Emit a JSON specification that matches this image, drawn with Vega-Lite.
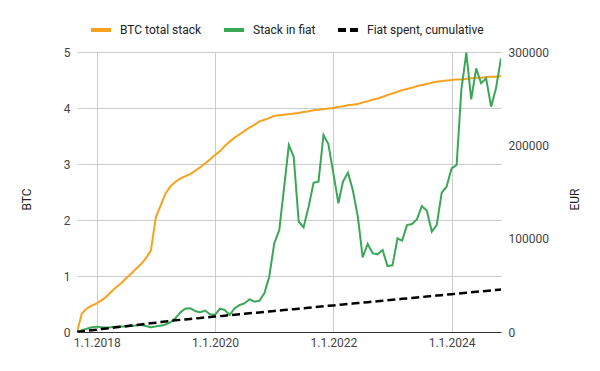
{
  "$schema": "https://vega.github.io/schema/vega-lite/v6.json",
  "width": 424,
  "height": 280,
  "autosize": {"type": "none"},
  "padding": {"left": 77, "top": 52, "right": 99, "bottom": 39},
  "background": "white",
  "config": {
    "view": {"stroke": null},
    "font": "Roboto",
    "axis": {
      "labelFont": "Roboto",
      "labelFontSize": 12,
      "labelColor": "#444444",
      "titleFont": "Roboto",
      "titleFontSize": 12,
      "titleFontWeight": "normal",
      "titleColor": "#222222",
      "gridColor": "#cccccc",
      "gridWidth": 1,
      "ticks": false
    },
    "legend": {
      "labelFont": "Roboto",
      "labelFontSize": 12,
      "labelColor": "#222222"
    }
  },
  "data": {
    "values": [
      {"date": "2017-09-01", "btc": 0, "fiat": 0, "spent": 0},
      {"date": "2017-10-01", "btc": 0.33, "fiat": 2000, "spent": 625},
      {"date": "2017-11-01", "btc": 0.42, "fiat": 3500, "spent": 1250},
      {"date": "2017-12-01", "btc": 0.47, "fiat": 5000, "spent": 1875},
      {"date": "2018-01-01", "btc": 0.51, "fiat": 5700, "spent": 2500},
      {"date": "2018-02-01", "btc": 0.57, "fiat": 5000, "spent": 3125},
      {"date": "2018-03-01", "btc": 0.63, "fiat": 4600, "spent": 3750},
      {"date": "2018-04-01", "btc": 0.72, "fiat": 5200, "spent": 4375},
      {"date": "2018-05-01", "btc": 0.80, "fiat": 5700, "spent": 5000},
      {"date": "2018-06-01", "btc": 0.87, "fiat": 5800, "spent": 5625},
      {"date": "2018-07-01", "btc": 0.96, "fiat": 6000, "spent": 6250},
      {"date": "2018-08-01", "btc": 1.04, "fiat": 6400, "spent": 6875},
      {"date": "2018-09-01", "btc": 1.13, "fiat": 7000, "spent": 7500},
      {"date": "2018-10-01", "btc": 1.21, "fiat": 7500, "spent": 8125},
      {"date": "2018-11-01", "btc": 1.32, "fiat": 6500, "spent": 8750},
      {"date": "2018-12-01", "btc": 1.45, "fiat": 5000, "spent": 9375},
      {"date": "2019-01-01", "btc": 2.05, "fiat": 6000, "spent": 10000},
      {"date": "2019-02-01", "btc": 2.27, "fiat": 6800, "spent": 10625},
      {"date": "2019-03-01", "btc": 2.47, "fiat": 8000, "spent": 11250},
      {"date": "2019-04-01", "btc": 2.60, "fiat": 10400, "spent": 11875},
      {"date": "2019-05-01", "btc": 2.68, "fiat": 14700, "spent": 12500},
      {"date": "2019-06-01", "btc": 2.74, "fiat": 21000, "spent": 13000},
      {"date": "2019-07-01", "btc": 2.78, "fiat": 25000, "spent": 13500},
      {"date": "2019-08-01", "btc": 2.82, "fiat": 25400, "spent": 14000},
      {"date": "2019-09-01", "btc": 2.88, "fiat": 22500, "spent": 14500},
      {"date": "2019-10-01", "btc": 2.94, "fiat": 21100, "spent": 15000},
      {"date": "2019-11-01", "btc": 3.01, "fiat": 23000, "spent": 15500},
      {"date": "2019-12-01", "btc": 3.08, "fiat": 19000, "spent": 16000},
      {"date": "2020-01-01", "btc": 3.16, "fiat": 18500, "spent": 16500},
      {"date": "2020-02-01", "btc": 3.23, "fiat": 25000, "spent": 17000},
      {"date": "2020-03-01", "btc": 3.32, "fiat": 23600, "spent": 17500},
      {"date": "2020-04-01", "btc": 3.40, "fiat": 18200, "spent": 18000},
      {"date": "2020-05-01", "btc": 3.47, "fiat": 25400, "spent": 18500},
      {"date": "2020-06-01", "btc": 3.53, "fiat": 28900, "spent": 19000},
      {"date": "2020-07-01", "btc": 3.59, "fiat": 30700, "spent": 19500},
      {"date": "2020-08-01", "btc": 3.65, "fiat": 35000, "spent": 20000},
      {"date": "2020-09-01", "btc": 3.70, "fiat": 32500, "spent": 20500},
      {"date": "2020-10-01", "btc": 3.76, "fiat": 33500, "spent": 21000},
      {"date": "2020-11-01", "btc": 3.79, "fiat": 41500, "spent": 21500},
      {"date": "2020-12-01", "btc": 3.82, "fiat": 59200, "spent": 22000},
      {"date": "2021-01-01", "btc": 3.86, "fiat": 95000, "spent": 22500},
      {"date": "2021-02-01", "btc": 3.87, "fiat": 109300, "spent": 23000},
      {"date": "2021-03-01", "btc": 3.88, "fiat": 152100, "spent": 23500},
      {"date": "2021-04-01", "btc": 3.89, "fiat": 200300, "spent": 24000},
      {"date": "2021-05-01", "btc": 3.90, "fiat": 187800, "spent": 24500},
      {"date": "2021-06-01", "btc": 3.91, "fiat": 118200, "spent": 25000},
      {"date": "2021-07-01", "btc": 3.93, "fiat": 112200, "spent": 25500},
      {"date": "2021-08-01", "btc": 3.94, "fiat": 134200, "spent": 26000},
      {"date": "2021-09-01", "btc": 3.96, "fiat": 160000, "spent": 26500},
      {"date": "2021-10-01", "btc": 3.97, "fiat": 161000, "spent": 27000},
      {"date": "2021-11-01", "btc": 3.98, "fiat": 211100, "spent": 27500},
      {"date": "2021-12-01", "btc": 3.99, "fiat": 201400, "spent": 28000},
      {"date": "2022-01-01", "btc": 4.00, "fiat": 170000, "spent": 28500},
      {"date": "2022-02-01", "btc": 4.02, "fiat": 137900, "spent": 29000},
      {"date": "2022-03-01", "btc": 4.03, "fiat": 161000, "spent": 29500},
      {"date": "2022-04-01", "btc": 4.05, "fiat": 170700, "spent": 30000},
      {"date": "2022-05-01", "btc": 4.06, "fiat": 152100, "spent": 30500},
      {"date": "2022-06-01", "btc": 4.07, "fiat": 123500, "spent": 31000},
      {"date": "2022-07-01", "btc": 4.10, "fiat": 80000, "spent": 31500},
      {"date": "2022-08-01", "btc": 4.12, "fiat": 94300, "spent": 32000},
      {"date": "2022-09-01", "btc": 4.15, "fiat": 84300, "spent": 32500},
      {"date": "2022-10-01", "btc": 4.17, "fiat": 83200, "spent": 33000},
      {"date": "2022-11-01", "btc": 4.20, "fiat": 87900, "spent": 33500},
      {"date": "2022-12-01", "btc": 4.23, "fiat": 70700, "spent": 34000},
      {"date": "2023-01-01", "btc": 4.26, "fiat": 71400, "spent": 34500},
      {"date": "2023-02-01", "btc": 4.29, "fiat": 100400, "spent": 35000},
      {"date": "2023-03-01", "btc": 4.32, "fiat": 97800, "spent": 35500},
      {"date": "2023-04-01", "btc": 4.34, "fiat": 114600, "spent": 36000},
      {"date": "2023-05-01", "btc": 4.36, "fiat": 115700, "spent": 36500},
      {"date": "2023-06-01", "btc": 4.39, "fiat": 120700, "spent": 37000},
      {"date": "2023-07-01", "btc": 4.41, "fiat": 135000, "spent": 37500},
      {"date": "2023-08-01", "btc": 4.43, "fiat": 130000, "spent": 38000},
      {"date": "2023-09-01", "btc": 4.45, "fiat": 107500, "spent": 38500},
      {"date": "2023-10-01", "btc": 4.47, "fiat": 114600, "spent": 39000},
      {"date": "2023-11-01", "btc": 4.48, "fiat": 149300, "spent": 39500},
      {"date": "2023-12-01", "btc": 4.49, "fiat": 155700, "spent": 40000},
      {"date": "2024-01-01", "btc": 4.50, "fiat": 175400, "spent": 40500},
      {"date": "2024-02-01", "btc": 4.51, "fiat": 178900, "spent": 41000},
      {"date": "2024-03-01", "btc": 4.51, "fiat": 259300, "spent": 41500},
      {"date": "2024-04-01", "btc": 4.52, "fiat": 299300, "spent": 42000},
      {"date": "2024-05-01", "btc": 4.53, "fiat": 249300, "spent": 42500},
      {"date": "2024-06-01", "btc": 4.54, "fiat": 282500, "spent": 43000},
      {"date": "2024-07-01", "btc": 4.54, "fiat": 266500, "spent": 43500},
      {"date": "2024-08-01", "btc": 4.55, "fiat": 271800, "spent": 44000},
      {"date": "2024-09-01", "btc": 4.56, "fiat": 241400, "spent": 44500},
      {"date": "2024-10-01", "btc": 4.56, "fiat": 261100, "spent": 45000},
      {"date": "2024-11-01", "btc": 4.57, "fiat": 293200, "spent": 45500}
    ]
  },
  "encoding": {
    "x": {
      "field": "date",
      "type": "temporal",
      "scale": {
        "type": "utc",
        "nice": false,
        "domain": [
          {"year": 2017, "month": 9, "date": 1, "utc": true},
          {"year": 2024, "month": 11, "date": 1, "utc": true}
        ]
      },
      "axis": {
        "title": null,
        "format": "%-d.%-m.%Y",
        "values": [
          {"year": 2018, "month": 1, "date": 1, "utc": true},
          {"year": 2020, "month": 1, "date": 1, "utc": true},
          {"year": 2022, "month": 1, "date": 1, "utc": true},
          {"year": 2024, "month": 1, "date": 1, "utc": true}
        ],
        "grid": true,
        "domain": true,
        "domainColor": "#333333",
        "domainWidth": 1,
        "labelPadding": 5
      }
    }
  },
  "layer": [
    {
      "mark": {"type": "line", "strokeWidth": 2, "clip": true},
      "encoding": {
        "y": {
          "field": "btc",
          "type": "quantitative",
          "scale": {"domain": [0, 5], "nice": false},
          "axis": {
            "orient": "left",
            "title": "BTC",
            "values": [0, 1, 2, 3, 4, 5],
            "grid": true,
            "domain": false,
            "labelPadding": 7,
            "titleAngle": -90,
            "titleX": -51,
            "titleY": 147,
            "titleBaseline": "middle",
            "titleAlign": "center"
          }
        },
        "color": {
          "datum": "BTC total stack",
          "scale": {
            "domain": ["BTC total stack", "Stack in fiat", "Fiat spent, cumulative"],
            "range": ["#f6a21e", "#3aa757", "#000000"]
          },
          "legend": {
            "title": null,
            "orient": "none",
            "direction": "horizontal",
            "legendX": 12,
            "legendY": -34,
            "symbolType": "stroke",
            "symbolSize": 400,
            "symbolStrokeWidth": 4,
            "columnPadding": 14,
            "labelOffset": 7,
            "padding": 0
          }
        },
        "strokeDash": {
          "datum": "BTC total stack",
          "scale": {
            "domain": ["BTC total stack", "Stack in fiat", "Fiat spent, cumulative"],
            "range": [[1, 0], [1, 0], [8, 4]]
          },
          "legend": {
            "title": null,
            "orient": "none",
            "direction": "horizontal",
            "legendX": 12,
            "legendY": -34,
            "symbolType": "stroke",
            "symbolSize": 400,
            "symbolStrokeWidth": 4,
            "columnPadding": 14,
            "labelOffset": 7,
            "padding": 0
          }
        }
      }
    },
    {
      "layer": [
        {
          "mark": {"type": "line", "strokeWidth": 2, "clip": true},
          "encoding": {
            "y": {
              "field": "fiat",
              "type": "quantitative",
              "scale": {"domain": [0, 300000], "nice": false},
              "axis": {
                "orient": "right",
                "title": "EUR",
                "values": [0, 100000, 200000, 300000],
                "format": "d",
                "grid": false,
                "domain": false,
                "labelPadding": 7,
                "titleAngle": -90,
                "titleX": 73,
                "titleY": 147,
                "titleBaseline": "middle",
                "titleAlign": "center"
              }
            },
            "color": {"datum": "Stack in fiat"},
            "strokeDash": {"datum": "Stack in fiat"}
          }
        },
        {
          "mark": {"type": "line", "strokeWidth": 2.5, "clip": true},
          "encoding": {
            "y": {
              "field": "spent",
              "type": "quantitative",
              "scale": {"domain": [0, 300000], "nice": false},
              "axis": {
                "orient": "right",
                "title": "EUR",
                "values": [0, 100000, 200000, 300000],
                "format": "d",
                "grid": false,
                "domain": false,
                "labelPadding": 7,
                "titleAngle": -90,
                "titleX": 73,
                "titleY": 147,
                "titleBaseline": "middle",
                "titleAlign": "center"
              }
            },
            "color": {"datum": "Fiat spent, cumulative"},
            "strokeDash": {"datum": "Fiat spent, cumulative"}
          }
        }
      ]
    }
  ],
  "resolve": {"scale": {"y": "independent"}}
}
